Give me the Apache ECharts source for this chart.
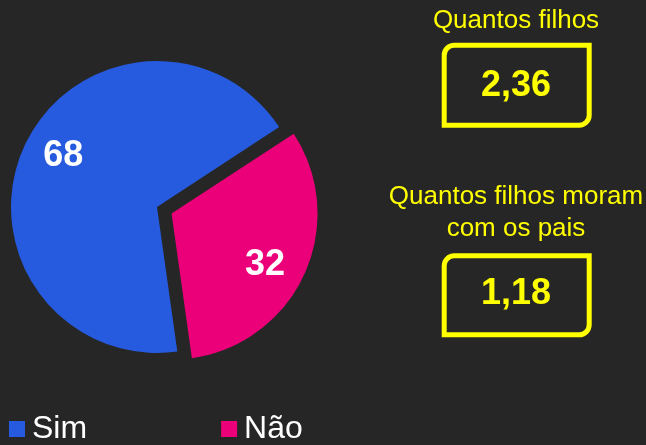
<!DOCTYPE html>
<html>
<head>
<meta charset="utf-8">
<script src="https://cdn.jsdelivr.net/npm/echarts@6/dist/echarts.min.js"></script>
<style>
html,body{margin:0;padding:0;background:#262626;}
#c{width:646px;height:445px;}
</style>
</head>
<body>
<div id="c"></div>
<script>
var categories = ['Sim', 'Não'];
var values = [68, 32];
var sliceColors = ['#275BDF', '#EB0079'];
var explodedCategory = 'Não';
var statTitles = ['Quantos filhos', 'Quantos filhos moram\ncom os pais'];
var statValues = ['2,36', '1,18'];

var FONT = '"Liberation Sans", Arial, sans-serif';
var YELLOW = '#FFFF00';

function pieData(withColor) {
  return categories.map(function (c, i) {
    var col = withColor ? sliceColors[i] : 'rgba(0,0,0,0)';
    return {
      name: c,
      value: values[i],
      selected: c === explodedCategory,
      itemStyle: { color: col },
      select: { itemStyle: { color: col } }
    };
  });
}

var chart = echarts.init(document.getElementById('c'), null, { renderer: 'canvas' });

var center = [157, 207];
var R = 146;

var option = {
  backgroundColor: '#262626',
  animation: false,
  legend: {
    data: categories,
    left: 9,
    top: 413,
    padding: 0,
    itemWidth: 16,
    itemHeight: 16,
    itemGap: 134,
    icon: 'rect',
    selectedMode: false,
    textStyle: { color: '#FFFFFF', fontSize: 32, fontFamily: FONT, padding: [6, 0, 0, 2] }
  },
  series: [
    {
      type: 'pie',
      name: 'main',
      center: center,
      radius: [0, R],
      startAngle: 278,
      clockwise: true,
      selectedMode: 'single',
      selectedOffset: 16,
      label: { show: false },
      labelLine: { show: false },
      emphasis: { disabled: true },
      silent: true,
      data: pieData(true)
    },
    {
      type: 'pie',
      name: 'labels',
      center: center,
      radius: [R * 0.42, R],
      startAngle: 274,
      clockwise: true,
      selectedMode: 'single',
      selectedOffset: 16,
      avoidLabelOverlap: false,
      silent: true,
      emphasis: { disabled: true },
      label: {
        show: true,
        position: 'inside',
        formatter: '{c}',
        color: '#FFFFFF',
        fontSize: 36,
        fontWeight: 'bold',
        fontFamily: FONT,
        padding: [4, 0, 0, 0]
      },
      labelLine: { show: false },
      data: pieData(false)
    }
  ],
  graphic: [
    {
      type: 'text', x: 516, y: 21,
      style: { text: statTitles[0], fill: YELLOW, font: '26px ' + FONT, align: 'center', verticalAlign: 'middle' }
    },
    {
      type: 'rect', x: 0, y: 0,
      shape: { x: 444.2, y: 45.2, width: 145, height: 80, r: [10, 0, 10, 0] },
      style: { fill: 'none', stroke: YELLOW, lineWidth: 5 }
    },
    {
      type: 'text', x: 516, y: 86,
      style: { text: statValues[0], fill: YELLOW, font: 'bold 36px ' + FONT, align: 'center', verticalAlign: 'middle' }
    },
    {
      type: 'text', x: 516, y: 213,
      style: { text: statTitles[1], fill: YELLOW, font: '26px ' + FONT, lineHeight: 32, align: 'center', verticalAlign: 'middle' }
    },
    {
      type: 'rect', x: 0, y: 0,
      shape: { x: 444.2, y: 255.8, width: 145, height: 79, r: [10, 0, 10, 0] },
      style: { fill: 'none', stroke: YELLOW, lineWidth: 5 }
    },
    {
      type: 'text', x: 516, y: 294,
      style: { text: statValues[1], fill: YELLOW, font: 'bold 36px ' + FONT, align: 'center', verticalAlign: 'middle' }
    }
  ]
};
chart.setOption(option);
</script>
</body>
</html>
